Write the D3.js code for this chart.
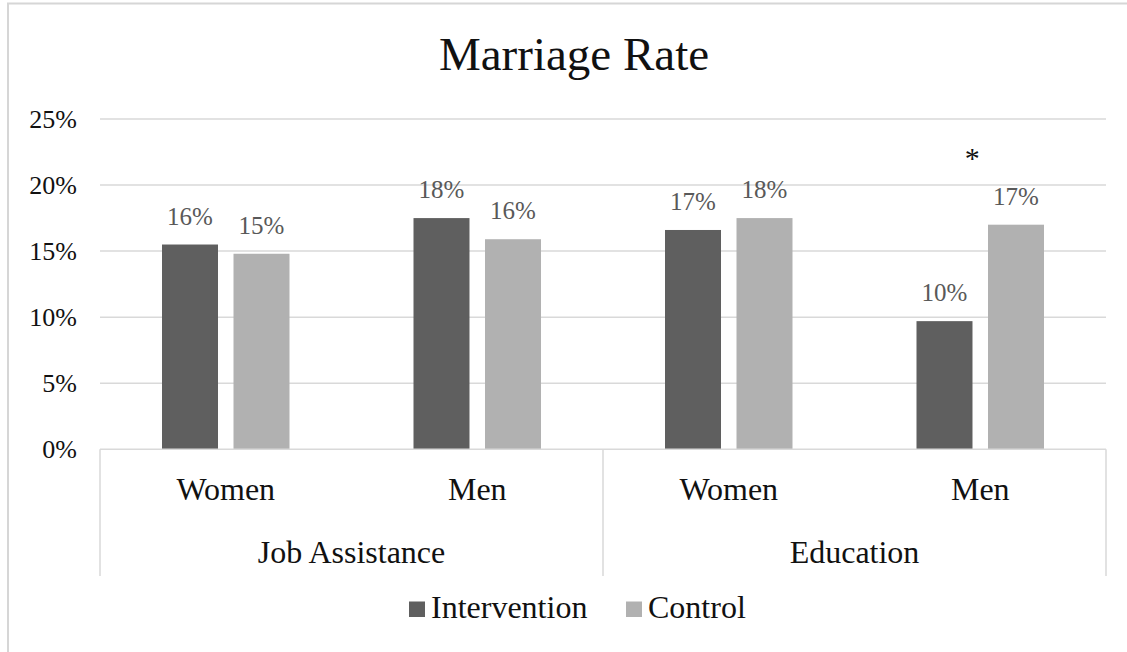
<!DOCTYPE html>
<html>
<head>
<meta charset="utf-8">
<script src="https://cdn.jsdelivr.net/npm/d3@7"></script>
<style>
  body { margin: 0; background: #fff; }
  svg { display: block; }
</style>
</head>
<body>
<svg id="chart" width="1127" height="652" font-family="Liberation Serif, serif"></svg>
<script>
const groups = ["Job Assistance", "Education"];
const categories = ["Women", "Men", "Women", "Men"];
const categoryGroup = [0, 0, 1, 1];
const series = ["Intervention", "Control"];
const intervention = [15.5, 17.5, 16.6, 9.7];
const control = [14.8, 15.9, 17.5, 17.0];
const yTicks = [0, 5, 10, 15, 20, 25];
const starCategory = 3; // significant difference marker

const svg = d3.select("#chart");
const colors = ["#5f5f5f", "#b1b1b1"];
const serif = '"Liberation Serif", "Times New Roman", Times, serif';

const plotLeft = 100, plotRight = 1106, plotTop = 119, plotBottom = 449.3;

// outer frame (cropped on right/bottom)
svg.append("path")
  .attr("d", "M8,652 L8,3.5 L1127,3.5")
  .attr("fill", "none")
  .attr("stroke", "#d6d6d6")
  .attr("stroke-width", 2);

const x = d3.scaleBand()
  .domain(d3.range(categories.length))
  .range([plotLeft, plotRight])
  .padding(0);

const xs = d3.scaleBand()
  .domain(series)
  .range([62, x.bandwidth() - 62])
  .paddingInner(0.217);

const y = d3.scaleLinear().domain([0, 25]).range([plotBottom, plotTop]);

// gridlines
svg.append("g")
  .selectAll("line")
  .data(yTicks.filter(d => d > 0))
  .join("line")
  .attr("x1", plotLeft).attr("x2", plotRight)
  .attr("y1", d => y(d)).attr("y2", d => y(d))
  .attr("stroke", "#d9d9d9")
  .attr("stroke-width", 1.5);

// y tick labels
const yAxis = svg.append("g")
  .attr("transform", "translate(77,0)")
  .call(d3.axisLeft(y).tickValues(yTicks).tickSize(0).tickPadding(0).tickFormat(d => d + "%"));
yAxis.select(".domain").remove();
yAxis.attr("font-family", null).attr("font-size", null);
yAxis.selectAll("text")
  .style("font-size", "26px")
  .attr("fill", "#111")
  .attr("dy", "0.33em");

// bars
const rows = categories.map((c, i) => ({ i, vals: [intervention[i], control[i]] }));
const cat = svg.append("g").selectAll("g")
  .data(rows)
  .join("g")
  .attr("transform", d => `translate(${x(d.i)},0)`);

cat.selectAll("rect")
  .data(d => d.vals.map((v, k) => ({ v, k })))
  .join("rect")
  .attr("x", d => xs(series[d.k]))
  .attr("width", xs.bandwidth())
  .attr("y", d => y(d.v))
  .attr("height", d => y(0) - y(d.v))
  .attr("fill", d => colors[d.k]);

cat.selectAll("text.lbl")
  .data(d => d.vals.map((v, k) => ({ v, k })))
  .join("text")
  .attr("class", "lbl")
  .attr("x", d => xs(series[d.k]) + xs.bandwidth() / 2)
  .attr("y", d => y(d.v) - 20)
  .attr("text-anchor", "middle")
  .style("font-size", "25px")
  .attr("fill", "#595959")
  .text(d => Math.round(d.v) + "%");

// asterisk
svg.append("text")
  .attr("x", x(starCategory) + x.bandwidth() / 2 - 8)
  .attr("y", 168)
  .attr("text-anchor", "middle")
  .style("font-size", "30px")
  .attr("fill", "#111")
  .text("*");

// x axis line and group separators
svg.append("line")
  .attr("x1", plotLeft).attr("x2", plotRight)
  .attr("y1", plotBottom).attr("y2", plotBottom)
  .attr("stroke", "#d9d9d9").attr("stroke-width", 1.5);

const sepX = [plotLeft, x(2), plotRight];
svg.append("g").selectAll("line")
  .data(sepX)
  .join("line")
  .attr("x1", d => d).attr("x2", d => d)
  .attr("y1", plotBottom).attr("y2", 576)
  .attr("stroke", "#d9d9d9").attr("stroke-width", 1.5);

// category labels
svg.append("g").selectAll("text")
  .data(categories)
  .join("text")
  .attr("x", (d, i) => x(i) + x.bandwidth() / 2)
  .attr("y", 500)
  .attr("text-anchor", "middle")
  .style("font-size", "32px")
  .attr("fill", "#111")
  .text(d => d);

// group labels
svg.append("g").selectAll("text")
  .data(groups)
  .join("text")
  .attr("x", (d, g) => {
    const idx = d3.range(categories.length).filter(i => categoryGroup[i] === g);
    return (x(idx[0]) + x(idx[idx.length - 1]) + x.bandwidth()) / 2;
  })
  .attr("y", 563)
  .attr("text-anchor", "middle")
  .style("font-size", "32px")
  .attr("fill", "#111")
  .text(d => d);

// title
svg.append("text")
  .attr("x", 574)
  .attr("y", 70)
  .attr("text-anchor", "middle")
  .style("font-size", "47px")
  .attr("fill", "#111")
  .text("Marriage Rate");

// legend
const legendX = [409, 626];
const legend = svg.append("g").selectAll("g")
  .data(series)
  .join("g")
  .attr("transform", (d, i) => `translate(${legendX[i]},0)`);
legend.append("rect")
  .attr("x", 0).attr("y", 601.5)
  .attr("width", 16).attr("height", 15.5)
  .attr("fill", (d, i) => colors[i]);
legend.append("text")
  .attr("x", 22).attr("y", 617.5)
  .style("font-size", "32px")
  .attr("fill", "#111")
  .text(d => d);

svg.selectAll("text")
  .attr("font-family", "Liberation Serif")
  .style("font-family", serif);
</script>
</body>
</html>
